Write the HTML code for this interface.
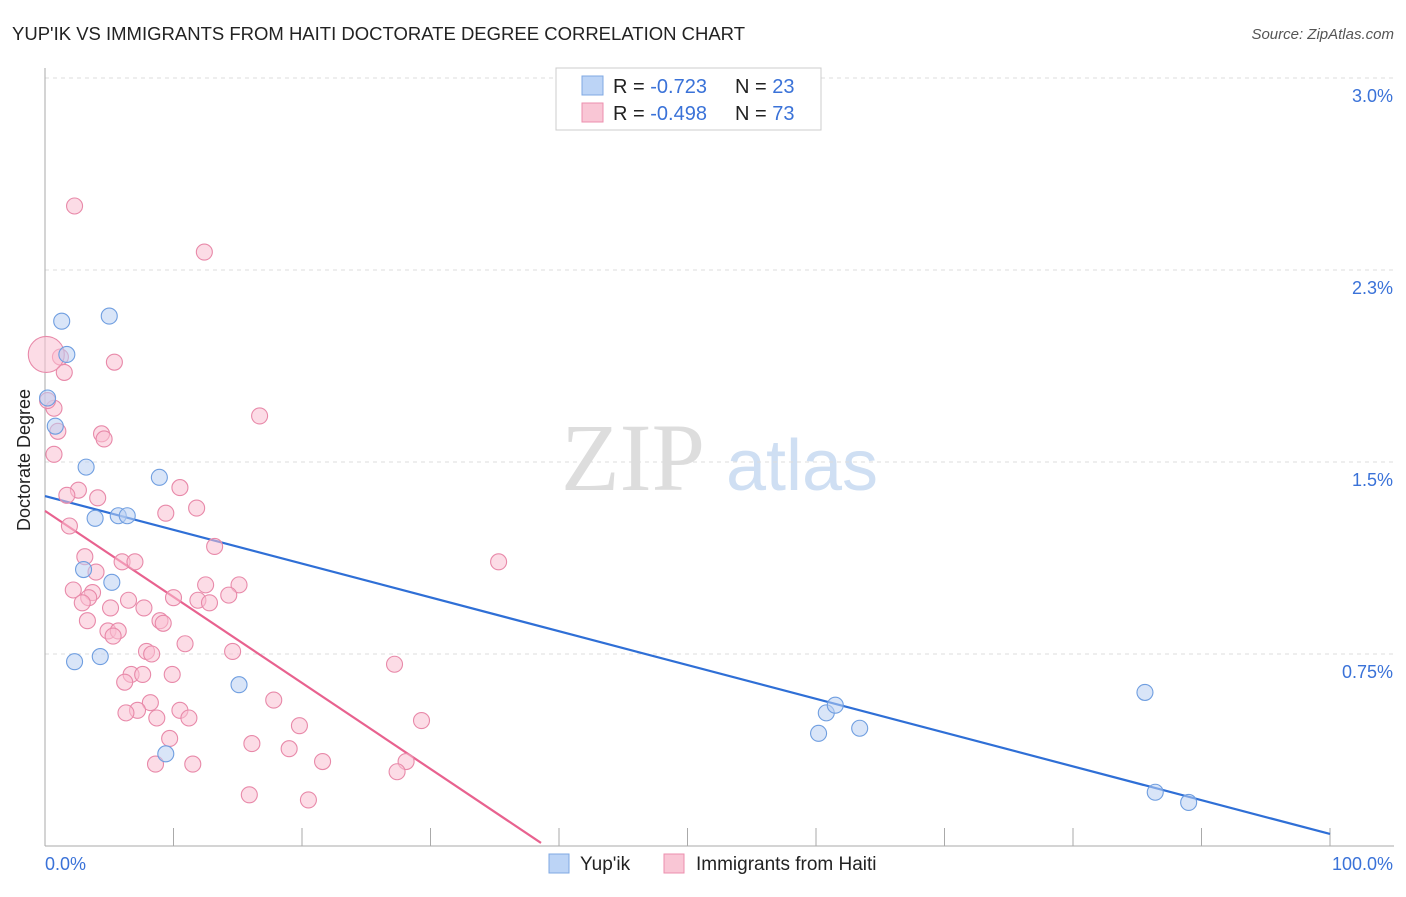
<!DOCTYPE html>
<html><head><meta charset="utf-8"><style>
body{margin:0;background:#fff;font-family:"Liberation Sans",sans-serif;}
svg text{font-family:"Liberation Sans",sans-serif;}
</style></head><body>
<svg id="c" width="1406" height="892" xmlns="http://www.w3.org/2000/svg">
<text x="12" y="40" font-size="18" fill="#222" textLength="733" lengthAdjust="spacingAndGlyphs">YUP'IK VS IMMIGRANTS FROM HAITI DOCTORATE DEGREE CORRELATION CHART</text>
<text x="1394" y="39" font-size="15" fill="#555" font-style="italic" text-anchor="end">Source: ZipAtlas.com</text>
<text x="30" y="460" font-size="18" fill="#222" text-anchor="middle" transform="rotate(-90 30 460)">Doctorate Degree</text>
<g><text x="633" y="490" font-size="96" fill="#ddd" style="font-family:'Liberation Serif',serif" text-anchor="middle">ZIP</text><text x="802" y="490" font-size="72" fill="#cfdff3" text-anchor="middle">atlas</text></g>
<g id="grid"></g><g id="axes"></g><g id="lines"></g><g id="pts"></g>
<g>
<rect x="556" y="68" width="265" height="62" fill="#fff" stroke="#ccc"/>
<rect x="582" y="76" width="21" height="19" fill="#bcd4f6" stroke="#7fa8e3"/>
<rect x="582" y="103" width="21" height="19" fill="#f9c6d5" stroke="#ec8fae"/>
<text x="613" y="93" font-size="20" fill="#222">R = <tspan fill="#3a72d8">-0.723</tspan><tspan x="735">N = </tspan><tspan fill="#3a72d8">23</tspan></text>
<text x="613" y="120" font-size="20" fill="#222">R = <tspan fill="#3a72d8">-0.498</tspan><tspan x="735">N = </tspan><tspan fill="#3a72d8">73</tspan></text>
</g>
<g>
<rect x="549" y="854" width="20" height="19" fill="#bcd4f6" stroke="#7fa8e3"/>
<text x="580" y="870" font-size="19" fill="#222">Yup'ik</text>
<rect x="664" y="854" width="20" height="19" fill="#f9c6d5" stroke="#ec8fae"/>
<text x="696" y="870" font-size="19" fill="#222">Immigrants from Haiti</text>
</g>
</svg>
<script>
const yTicks=[0.75,1.5,2.25,3.0];
const yTickLabels=["0.75%","1.5%","2.3%","3.0%"];
const xTickLabels=["0.0%","100.0%"];
const yupikX=[1.3,5.0,1.7,0.2,0.8,3.2,8.9,3.9,5.7,6.4,3.0,5.2,2.3,4.3,15.1,9.4,60.8,61.5,60.2,63.4,85.6,86.4,89.0];
const yupikY=[2.05,2.07,1.92,1.75,1.64,1.48,1.44,1.28,1.29,1.29,1.08,1.03,0.72,0.74,0.63,0.36,0.52,0.55,0.44,0.46,0.60,0.21,0.17];
const haitiX=[2.3,12.4,5.4,1.5,1.2,0.7,0.2,1.0,16.7,4.4,4.6,0.7,2.6,1.7,4.1,10.5,11.8,9.4,1.9,3.1,13.2,6.0,7.0,3.97,2.2,3.7,3.4,2.9,5.1,10.0,12.5,15.1,14.3,11.9,12.8,7.7,3.3,6.5,8.95,9.2,4.9,5.7,5.3,10.9,7.9,8.3,14.6,6.7,7.6,9.9,6.2,27.2,35.3,17.8,8.2,10.5,7.2,6.3,8.7,11.2,19.8,29.3,9.7,16.1,19.0,21.6,8.6,11.5,28.1,27.4,15.9,20.5,0.1];
const haitiY=[2.50,2.32,1.89,1.85,1.91,1.71,1.74,1.62,1.68,1.61,1.59,1.53,1.39,1.37,1.36,1.40,1.32,1.30,1.25,1.13,1.17,1.11,1.11,1.07,1.00,0.99,0.97,0.95,0.93,0.97,1.02,1.02,0.98,0.96,0.95,0.93,0.88,0.96,0.88,0.87,0.84,0.84,0.82,0.79,0.76,0.75,0.76,0.67,0.67,0.67,0.64,0.71,1.11,0.57,0.56,0.53,0.53,0.52,0.50,0.50,0.47,0.49,0.42,0.40,0.38,0.33,0.32,0.32,0.33,0.29,0.20,0.18,1.92];
const yupikTrend=[[0,1.367],[100,0.047]];
const haitiTrend=[[0,1.309],[38.6,0.012]];
const NS="http://www.w3.org/2000/svg";
const X0=45,X1=1330,Y0=846,PXPER=256;
function sx(v){return X0+(X1-X0)*v/100;}
function sy(v){return Y0-v*PXPER;}
function mk(t,a,p){const e=document.createElementNS(NS,t);for(const k in a)e.setAttribute(k,a[k]);p.appendChild(e);return e;}
const grid=document.getElementById('grid'),axes=document.getElementById('axes');
yTicks.forEach((t,i)=>{
 const l=mk('line',{x1:X0,x2:1394,y1:sy(t),y2:sy(t),stroke:'#ddd','stroke-dasharray':'4,4'},grid);
 
 
 const tx=mk('text',{x:1393,y:sy(t)+24,'font-size':18,fill:'#3a72d8','text-anchor':'end'},axes);
 tx.textContent=yTickLabels[i];
 
 
});
const ax=mk('line',{x1:X0,x2:X0,y1:68,y2:Y0,stroke:'#aaa'},axes);


const bx=mk('line',{x1:X0,x2:1394,y1:Y0,y2:Y0,stroke:'#aaa'},axes);


for(let i=0;i<=10;i++){
 const tk=mk('line',{x1:sx(i*10),x2:sx(i*10),y1:828,y2:Y0,stroke:'#aaa'},axes);
 
 
}
[[0,'start',45],[100,'end',1393]].forEach((d,i)=>{
 const t=mk('text',{x:d[2],y:870,'font-size':18,fill:'#3a72d8','text-anchor':d[1]},axes);
 t.textContent=xTickLabels[i];
 
 
});
const pts=document.getElementById('pts');
function dots(xs,ys,fill,stroke,name){
 xs.forEach((x,i)=>{
  const c=mk('circle',{cx:sx(x),cy:sy(ys[i]),r:(name==='haiti-point'&&i===xs.length-1)?18:8,fill:fill,'fill-opacity':0.55,stroke:stroke,'stroke-width':1.1},pts);
  
  
 });
}
dots(haitiX,haitiY,'#f9c0d2','#e889a9','haiti-point');
dots(yupikX,yupikY,'#b9d0f3','#6f9ee0','yupik-point');
const lines=document.getElementById('lines');
const l1=mk('line',{x1:sx(yupikTrend[0][0]),y1:sy(yupikTrend[0][1]),x2:sx(yupikTrend[1][0]),y2:sy(yupikTrend[1][1]),stroke:'#2f6fd6','stroke-width':2.2},lines);


const l2=mk('line',{x1:sx(haitiTrend[0][0]),y1:sy(haitiTrend[0][1]),x2:sx(haitiTrend[1][0]),y2:sy(haitiTrend[1][1]),stroke:'#e8628f','stroke-width':2.2},lines);


</script>
</body></html>
